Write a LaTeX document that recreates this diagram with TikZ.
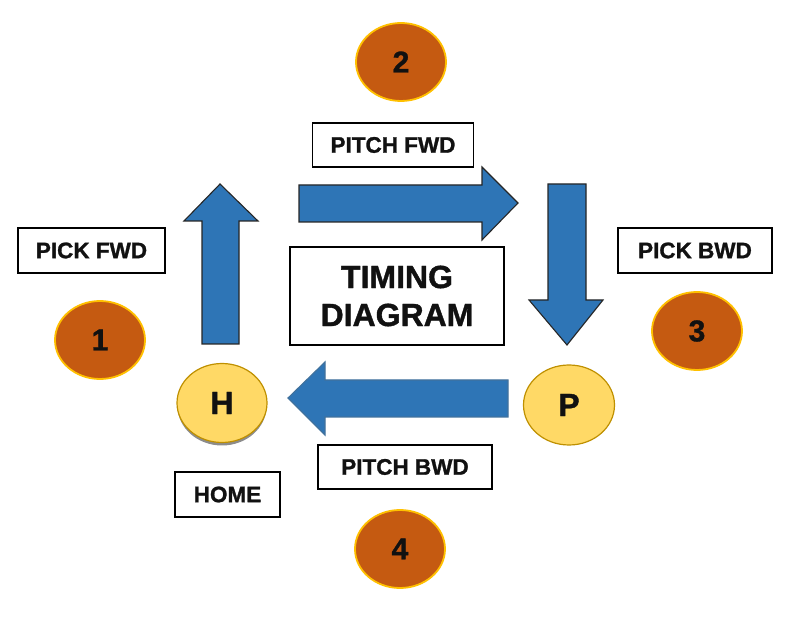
\documentclass[tikz,border=0pt]{standalone}
\usepackage{fontspec}
\setmainfont{Liberation Sans}[BoldFeatures={FakeBold=1.2}]
\usetikzlibrary{shapes.geometric}
\definecolor{arrowblue}{HTML}{2E75B6}
\definecolor{leftedge}{HTML}{41719C}
\definecolor{burnt}{HTML}{C55A11}
\definecolor{gold}{HTML}{FFC000}
\definecolor{paleyel}{HTML}{FFD966}
\definecolor{darkgold}{HTML}{BF9000}
\definecolor{txt}{HTML}{111111}
\tikzset{
  labelbox/.style={draw=black, line width=1.1pt, fill=white, inner sep=0pt,
    font=\bfseries\fontsize{22.5}{25}\selectfont, text=txt},
  numcirc/.style={ellipse, draw=gold, line width=1.8pt, fill=burnt, inner sep=0pt,
    minimum width=90pt, minimum height=78pt, font=\bfseries\fontsize{30}{32}\selectfont, text=txt},
  statecirc/.style={ellipse, draw=darkgold, line width=1.2pt, fill=paleyel, inner sep=0pt,
    minimum width=90pt, minimum height=79pt, font=\bfseries\fontsize{32}{34}\selectfont, text=txt},
  blockarrow/.style={fill=arrowblue, draw=black!85, line width=1.1pt, line join=miter},
}
\begin{document}
\begin{tikzpicture}[x=1pt, y=-1pt]
\useasboundingbox (0,0) rectangle (807,636);
% block arrows
\path[blockarrow] (202,344) -- (202,221) -- (184,221) -- (220,184) -- (258,221) -- (239,221) -- (239,344) -- cycle;
\path[blockarrow] (299,185) -- (482,185) -- (482,167) -- (518,203) -- (482,240) -- (482,222) -- (299,222) -- cycle;
\path[blockarrow] (548,184) -- (586,184) -- (586,300) -- (603,300) -- (567,345) -- (529,300) -- (548,300) -- cycle;
\path[blockarrow, draw=leftedge] (508,380) -- (325,380) -- (325,362) -- (288,398) -- (325,435) -- (325,417) -- (508,417) -- cycle;
% label boxes
\node[labelbox, minimum width=161pt, minimum height=44pt] (pitchfwd) at (393,145) {PITCH FWD};
\node[labelbox, minimum width=147pt, minimum height=45pt] (pickfwd) at (91.5,250.5) {PICK FWD};
\node[labelbox, minimum width=154pt, minimum height=45pt] (pickbwd) at (695,250.5) {PICK BWD};
\node[labelbox, minimum width=214pt, minimum height=98pt, align=center,
  font=\bfseries\fontsize{32}{38}\selectfont] (timing) at (397,296) {TIMING\\DIAGRAM};
\node[labelbox, minimum width=174pt, minimum height=44pt] (pitchbwd) at (405,467) {PITCH BWD\hspace{8pt}};
\node[labelbox, minimum width=105pt, minimum height=45pt] (home) at (227.5,494.5) {HOME};
% numbered circles
\node[numcirc] (c2) at (401,62) {2};
\node[numcirc] (c1) at (100,340) {1};
\node[numcirc] (c3) at (697,331) {3};
\node[numcirc] (c4) at (400,549) {4};
% state circles
\fill[black!45] (222,406) ellipse [x radius=44.5pt, y radius=39.5pt];
\node[statecirc] (H) at (222,403) {H};
\node[statecirc, minimum width=91pt, minimum height=80pt] (P) at (569,405) {P};
\end{tikzpicture}
\end{document}
